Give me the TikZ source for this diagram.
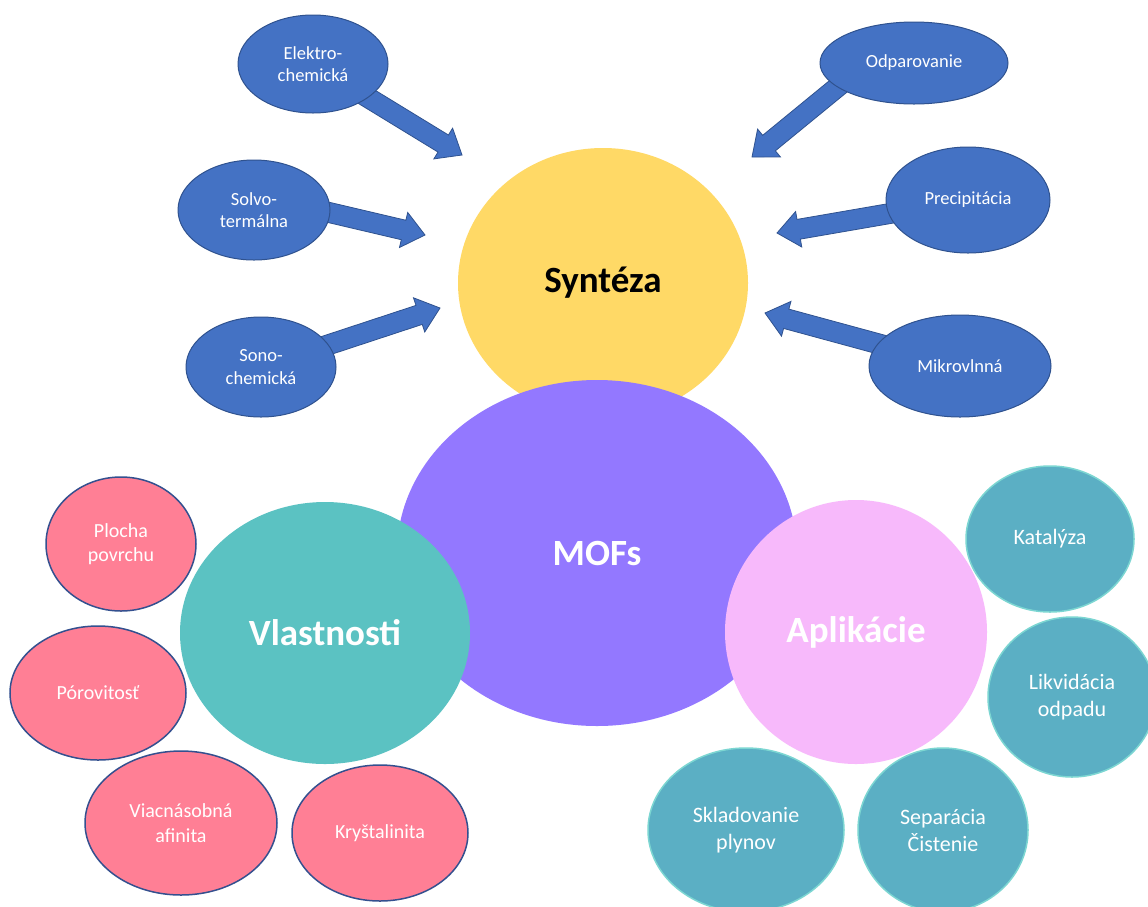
\documentclass[tikz,border=0pt]{standalone}
\usepackage{fontspec}
\setmainfont{Carlito}
\usetikzlibrary{shapes.geometric,calc,backgrounds}
\definecolor{bfill}{HTML}{4472C4}
\definecolor{bline}{HTML}{2F528F}
\definecolor{synfill}{HTML}{FFD966}
\definecolor{moffill}{HTML}{9378FF}
\definecolor{vlfill}{HTML}{5BC2C2}
\definecolor{apfill}{HTML}{F7B9FB}
\definecolor{pfill}{HTML}{FF7F95}
\definecolor{pline}{HTML}{34508F}
\definecolor{tfill}{HTML}{5BAFC4}
\definecolor{tline}{HTML}{7CD6D2}
\newcommand{\blockarr}[3]{%
  \coordinate (#3b) at ($(#2)!22pt!(#1)$);
  \path[barrow] ($(#1)!10pt!90:(#2)$) -- ($(#3b)!10pt!90:(#2)$) -- ($(#3b)!18pt!90:(#2)$) -- (#2)
    -- ($(#3b)!18pt!-90:(#2)$) -- ($(#3b)!10pt!-90:(#2)$) -- ($(#1)!10pt!-90:(#2)$) -- cycle;}
\begin{document}
\begin{tikzpicture}[x=1pt,y=-1pt,
  sz/.style 2 args={minimum width=#1pt,minimum height=#2pt},
  base/.style={ellipse,inner sep=0pt,align=center},
  method/.style={base,fill=bfill,draw=bline,line width=1pt,text=white,font=\fontsize{18.5}{22.5}\selectfont},
  topic/.style={base,text=white,font=\bfseries\fontsize{37}{44}\selectfont},
  prop/.style={base,fill=pfill,draw=pline,line width=1.5pt,text=white,font=\fontsize{20}{24.5}\selectfont},
  appl/.style={base,fill=tfill,draw=tline,line width=1.5pt,text=white,font=\fontsize{22}{27}\selectfont},
  barrow/.style={fill=bfill,draw=bline,line width=0.8pt,line join=miter}]
\useasboundingbox (0,0) rectangle (1148,906);
\clip (0,0) rectangle (1148,906);
% central topics
\node[topic,fill=synfill,text=black,sz={290}{270}] (synt) at (603,283) {Syntéza};
\node[topic,fill=moffill,sz={400}{346}] (mof) at (597,553) {MOFs};
\node[topic,fill=vlfill,sz={290}{262}] (vlast) at (325,633) {Vlastnosti};
\node[topic,fill=apfill,sz={262}{264}] (aplik) at (856,632) {Aplikácie};
% synthesis methods
\node[method,sz={150}{98}] (elek) at (313,64) {Elektro-\\chemická};
\node[method,sz={152}{100}] (solvo) at (254,210) {Solvo-\\termálna};
\node[method,sz={150}{100}] (sono) at (261,367) {Sono-\\chemická};
\node[method,sz={188}{82}] (odpar) at (914,63) {Odparovanie};
\node[method,sz={164}{106}] (precip) at (968,200) {Precipitácia};
\node[method,sz={182}{102}] (mikro) at (960,366) {Mikrovlnná};
% arrow tips
\coordinate (elekT) at (462,155);
\coordinate (solvoT) at (425,235);
\coordinate (sonoT) at (440,308);
\coordinate (odparT) at (752,157);
\coordinate (precipT) at (777,233);
\coordinate (mikroT) at (765,313);
\coordinate (solvoS) at ($(solvo)!0.3!(solvo.north)$);
\coordinate (odparS) at ($(odpar)!0.5!(odpar.west)$);
\begin{pgfonlayer}{background}
\fill[white] (0,0) rectangle (1148,906);
\blockarr{elek}{elekT}{ea}
\blockarr{solvoS}{solvoT}{sa}
\blockarr{sono}{sonoT}{na}
\blockarr{odparS}{odparT}{oa}
\blockarr{precip}{precipT}{pa}
\blockarr{mikro}{mikroT}{ma}
\end{pgfonlayer}
% properties
\node[prop,sz={150}{134}] (plocha) at (121,544) {Plocha\\povrchu};
\node[prop,sz={176}{134}] (porov) at (98,693) {Pórovitosť};
\node[prop,sz={192}{144}] (viac) at (181,823) {Viacnásobná\\afinita};
\node[prop,sz={176}{136}] (kryst) at (380,833) {Kryštalinita};
% applications
\node[appl,sz={168}{146}] (katal) at (1050,539) {Katalýza};
\node[appl,sz={168}{160}] (likvid) at (1072,697) {Likvidácia\\odpadu};
\node[appl,sz={196}{164}] (sklad) at (746,830) {Skladovanie\\plynov};
\node[appl,sz={170}{164}] (separ) at (943,830) {Separácia\\Čistenie};
\end{tikzpicture}
\end{document}
